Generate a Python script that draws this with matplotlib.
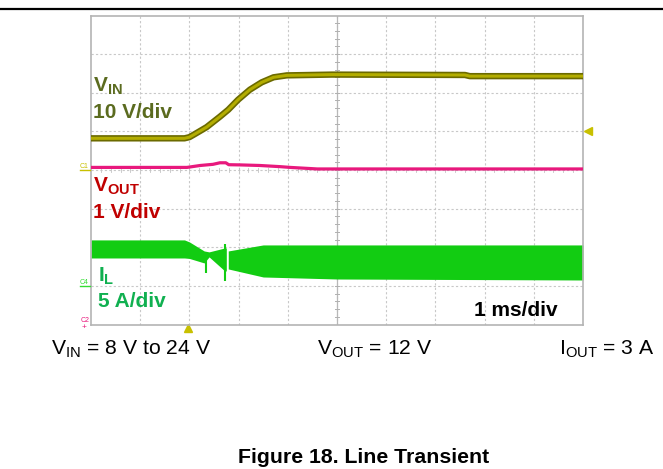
import numpy as np
import matplotlib.pyplot as plt

plt.rcParams['font.family'] = ['Liberation Sans', 'DejaVu Sans']
plt.rcParams['mathtext.fontset'] = 'custom'
plt.rcParams['mathtext.rm'] = 'Liberation Sans'
plt.rcParams['mathtext.bf'] = 'Liberation Sans:bold'
plt.rcParams['mathtext.it'] = 'Liberation Sans:italic'

vin_t = [0, 1.90, 2.00, 2.11, 2.35, 2.62, 2.79, 2.99, 3.23, 3.47, 3.71, 3.98, 4.9, 7.6, 7.7, 10]
vin_v = [8.0, 8.0, 8.3, 9.1, 10.9, 13.6, 15.4, 18.0, 20.6, 22.5, 23.8, 24.3, 24.5, 24.4, 24.1, 24.1]

vout_t = [0, 1.95, 2.22, 2.48, 2.62, 2.74, 2.80, 3.03, 3.43, 3.84, 4.05, 4.6, 10]
vout_v = [12.0, 12.0, 12.05, 12.08, 12.12, 12.12, 12.07, 12.065, 12.05, 12.02, 12.0, 11.96, 11.96]

# envolvente de la corriente de bobina (A), antes y despues del salto
il1_t = [0, 1.90, 2.00, 2.30, 2.40, 2.72, 2.75]
il1_hi = [5.95, 5.95, 5.69, 4.52, 4.40, 4.91, 4.91]
il1_lo = [3.61, 3.61, 3.55, 2.97, 3.75, 1.93, 1.93]
il2_t = [2.79, 3.5, 5.0, 10]
il2_hi = [4.52, 5.30, 5.30, 5.30]
il2_lo = [2.19, 1.15, 0.89, 0.76]
spike_t = [2.34, 2.72]
spike_hi = [4.26, 5.43]
spike_lo = [1.67, 0.63]

# escalas y referencias de cada canal (en divisiones)
vin_scale, vin_gnd = 10.0, 4.02
vout_scale, vout_pos = 1.0, 4.067
il_scale, il_gnd = 5.0, 1.0

W, H = 663, 469
fig = plt.figure(figsize=(W / 100, H / 100), dpi=100)
ax = fig.add_axes([91 / W, 1 - 324.5 / H, 492 / W, 309 / H])
ax.set_xlim(0, 10)
ax.set_ylim(0, 8)
ax.set_xticks([])
ax.set_yticks([])
for s in ax.spines.values():
    s.set_color('#b4b4b4')
    s.set_linewidth(1.2)

# reticula
for i in range(1, 10):
    ax.axvline(i, color='#c8c8c8', lw=0.8, ls=(0, (2, 2)), zorder=0)
for j in range(1, 8):
    ax.axhline(j, color='#c8c8c8', lw=0.8, ls=(0, (2, 2)), zorder=0)
ax.axvline(5, color='#b8b8b8', lw=0.9, zorder=0)
for k in np.arange(0.2, 8, 0.2):
    ax.plot([4.95, 5.05], [k, k], color='#b0b0b0', lw=0.7, zorder=0)
for k in np.arange(0.2, 10, 0.2):
    ax.plot([k, k], [3.94, 4.06], color='#c4c4c4', lw=0.6, zorder=0)

# VIN
vin_y = vin_gnd + np.array(vin_v) / vin_scale
ax.plot(vin_t, vin_y, color='#6b6a00', lw=4.6, solid_capstyle='butt', zorder=3)
ax.plot(vin_t, vin_y, color='#b3ad00', lw=2.2, solid_capstyle='butt', zorder=4)

# VOUT
vout_y = vout_pos + (np.array(vout_v) - 12.0) / vout_scale
ax.plot(vout_t, vout_y, color='#e8197d', lw=2.3, solid_capstyle='butt', zorder=3)

# IL
g = '#12cc12'
ax.fill_between(il1_t, il_gnd + np.array(il1_lo) / il_scale, il_gnd + np.array(il1_hi) / il_scale,
                color=g, lw=0, zorder=2)
ax.fill_between(il2_t, il_gnd + np.array(il2_lo) / il_scale, il_gnd + np.array(il2_hi) / il_scale,
                color=g, lw=0, zorder=2)
ax.vlines(spike_t, il_gnd + np.array(spike_lo) / il_scale, il_gnd + np.array(spike_hi) / il_scale,
          color=g, lw=1.5, zorder=2)

# marcadores de canal y disparo
ax.plot([10.1], [5.0], marker='<', color='#c8c000', ms=6, clip_on=False)
ax.plot([1.97], [-0.09], marker='^', color='#c8c000', ms=6, clip_on=False)
fig.text(80 / W, 1 - 168 / H, 'C1', color='#c8c000', fontsize=5, va='baseline')
fig.add_artist(plt.Line2D([80 / W, 90 / W], [1 - 170 / H, 1 - 170 / H], color='#c8c000', lw=1))
fig.text(80 / W, 1 - 284 / H, 'C4', color='#33dd33', fontsize=5, va='baseline')
fig.add_artist(plt.Line2D([80 / W, 90 / W], [1 - 286 / H, 1 - 286 / H], color='#33dd33', lw=1))
fig.text(81 / W, 1 - 322 / H, 'C2', color='#e8197d', fontsize=5, va='baseline')
fig.text(82 / W, 1 - 329 / H, '+', color='#e8197d', fontsize=6, va='baseline')

def put(x, y, s, **kw):
    fig.text(x / W, 1 - y / H, s, va='baseline', **kw)

# etiquetas de canal
put(93, 92, r'$\mathbf{V}_{\mathbf{IN}}$', fontsize=15, color='#5b6b1f')
put(93, 118, '10 V/div', fontsize=15, fontweight='bold', color='#5b6b1f')
put(93, 192, r'$\mathbf{V}_{\mathbf{OUT}}$', fontsize=15, color='#c00000')
put(93, 218, '1 V/div', fontsize=15, fontweight='bold', color='#c00000')
put(98, 282, r'$\mathbf{I}_{\mathbf{L}}$', fontsize=15, color='#10b050')
put(98, 307, '5 A/div', fontsize=15, fontweight='bold', color='#10b050')
put(474, 316, '1 ms/div', fontsize=15, fontweight='bold', color='black')

# condiciones de prueba
put(51, 355, r'V$_\mathrm{IN}$ = 8 V to 24 V', fontsize=15.2)
put(317, 355, r'V$_\mathrm{OUT}$ = 12 V', fontsize=15.2)
put(559, 355, r'I$_\mathrm{OUT}$ = 3 A', fontsize=15.2)
fig.text(364 / W, 1 - 463 / H, 'Figure 18. Line Transient', ha='center', va='baseline',
         fontsize=15.3, fontweight='bold')

# linea superior de la pagina
fig.add_artist(plt.Line2D([0, 1], [1 - 9 / H, 1 - 9 / H], color='black', lw=1.6))

fig.savefig('out.png', dpi=100)
